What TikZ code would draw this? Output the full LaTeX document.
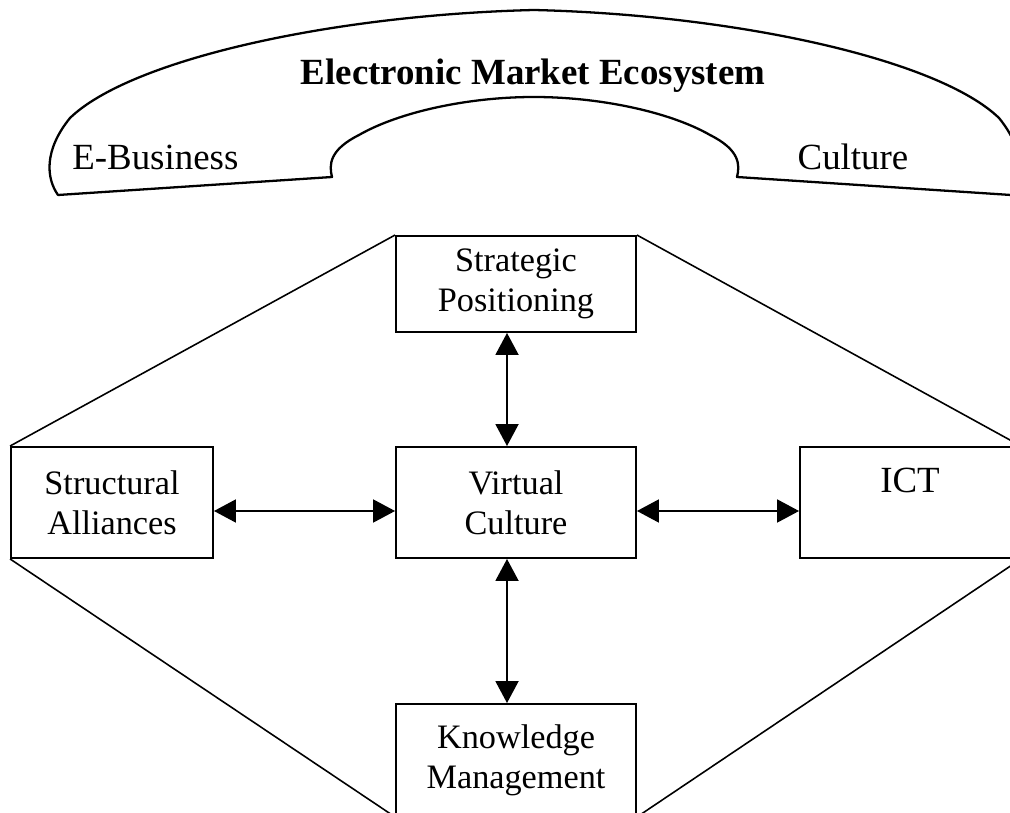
\documentclass[tikz,border=0pt]{standalone}
\usepackage{fontspec}
\setmainfont{Liberation Serif}
\usetikzlibrary{arrows.meta}
\tikzset{
  box/.style={
    draw, line width=1.1pt,
    minimum width=4.8cm, minimum height=2.22cm,
    inner sep=2pt, align=center,
    font=\fontsize{19.5pt}{22.8pt}\selectfont
  },
  tag/.style={inner sep=0pt, font=\fontsize{21pt}{25pt}\selectfont},
  biarrow/.style={{Triangle[length=0.44cm,width=0.46cm]}-{Triangle[length=0.44cm,width=0.46cm]}, line width=1.1pt},
  frame/.style={line width=0.9pt},
  arch/.style={line width=1.3pt, line join=round}
}
\begin{document}
\begin{tikzpicture}[x=0.02cm, y=-0.02cm]
  \clip (0,0) rectangle (1010,813);
  % ecosystem arch
  \draw[arch] (58,195) .. controls (46,178) and (44,150) .. (70,118)
    .. controls (130,60) and (330,15) .. (534,10)
    .. controls (739,15) and (939,60) .. (999,118)
    .. controls (1025,150) and (1023,178) .. (1011,195)
    -- (737,177) .. controls (740,165) and (740,150) .. (710,135)
    .. controls (670,112) and (600,97) .. (534,97)
    .. controls (468,97) and (399,112) .. (359,135)
    .. controls (329,150) and (329,165) .. (332,177) -- cycle;
  \node[tag, anchor=base] (title) at (533,85) {\textbf{Electronic Market Ecosystem}};
  \node[tag, anchor=base west] (ebus) at (72,170) {E-Business};
  \node[tag, anchor=base] (cult) at (853,170) {Culture};
  % boxes
  \node[box, minimum height=1.92cm] (sp) at (516,284) {Strategic\\Positioning};
  \node[box, minimum width=4.04cm] (sa) at (112,502.5) {Structural\\Alliances};
  \node[box] (vc) at (516,502.5) {Virtual\\Culture};
  \node[box, minimum width=4.4cm, font=\fontsize{21pt}{25pt}\selectfont, text depth=0.87cm] (ict) at (910,502.5) {ICT};
  \node[box, minimum height=2.24cm] (km) at (516,760) {Knowledge\\Management};
  % links
  \draw[biarrow] ([xshift=-0.18cm]sp.south) -- ([xshift=-0.18cm]vc.north);
  \draw[biarrow] ([xshift=-0.18cm]vc.south) -- ([xshift=-0.18cm]km.north);
  \draw[biarrow] ([yshift=-0.17cm]sa.east) -- ([yshift=-0.17cm]vc.west);
  \draw[biarrow] ([yshift=-0.17cm]vc.east) -- ([yshift=-0.17cm]ict.west);
  % outline
  \draw[frame] (sp.north west) -- (sa.north west);
  \draw[frame] (sp.north east) -- (ict.north east);
  \draw[frame] (sa.south west) -- (km.south west);
  \draw[frame] (ict.south east) -- (km.south east);
\end{tikzpicture}
\end{document}
